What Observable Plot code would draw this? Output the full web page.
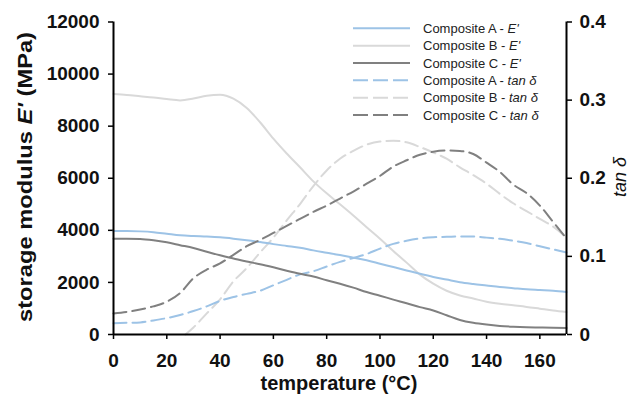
<!DOCTYPE html>
<html><head><meta charset="utf-8">
<script src="https://cdn.jsdelivr.net/npm/d3@7"></script>
<script src="https://cdn.jsdelivr.net/npm/@observablehq/plot@0.6"></script>
<style>
body{margin:0;background:#fff;}
#chart{width:632px;height:398px;}
</style></head><body><div id="chart"></div>
<script>
// ---- data ----
const temps = [0,5,10,15,20,25,30,35,40,45,50,55,60,65,70,75,80,85,90,95,100,105,110,115,120,125,130,135,140,145,150,155,160,165,170];
const eA = [3970,3970,3960,3930,3870,3810,3780,3760,3730,3680,3620,3550,3470,3400,3330,3230,3140,3050,2950,2850,2720,2590,2460,2330,2210,2110,2010,1940,1880,1820,1780,1740,1710,1680,1630];
const eB = [9240,9200,9150,9100,9040,8990,9060,9170,9210,9060,8700,8150,7520,6950,6420,5880,5420,5000,4570,4120,3680,3210,2760,2300,1950,1680,1500,1380,1260,1180,1120,1060,990,920,860];
const eC = [3680,3680,3670,3620,3540,3430,3320,3180,3040,2920,2800,2700,2580,2450,2330,2230,2080,1950,1800,1630,1490,1340,1200,1050,920,740,560,450,380,330,300,280,270,260,250];
const tanA = [0.0145,0.015,0.0155,0.018,0.021,0.025,0.030,0.036,0.043,0.048,0.052,0.056,0.063,0.070,0.077,0.081,0.087,0.093,0.098,0.103,0.110,0.116,0.120,0.123,0.1245,0.125,0.1255,0.1255,0.124,0.1225,0.120,0.117,0.113,0.109,0.105];
const tanBTemps = [27,30,35,40,45,50,55,60,65,70,75,80,85,90,95,100,105,110,115,120,125,130,135,140,145,150,155,160,165,170];
const tanB = [0,0.009,0.027,0.045,0.068,0.085,0.105,0.124,0.146,0.167,0.190,0.210,0.225,0.235,0.243,0.247,0.248,0.246,0.240,0.233,0.225,0.214,0.204,0.193,0.180,0.168,0.158,0.148,0.138,0.124];
const tanC = [0.027,0.029,0.032,0.036,0.042,0.053,0.072,0.083,0.091,0.102,0.113,0.121,0.130,0.139,0.148,0.157,0.165,0.174,0.183,0.193,0.203,0.215,0.223,0.230,0.234,0.2355,0.235,0.231,0.220,0.208,0.192,0.181,0.165,0.144,0.123];

const xTicks = [0,20,40,60,80,100,120,140,160];
const yTicks = [0,2000,4000,6000,8000,10000,12000];
const tanTicks = [0,0.1,0.2,0.3,0.4];
const tanTickLabels = ["0","0.1","0.2","0.3","0.4"];

const seriesNames = ["Composite A - E'","Composite B - E'","Composite C - E'","Composite A - tan δ","Composite B - tan δ","Composite C - tan δ"];
const colors = {A:"#9dc3e6", B:"#d9d9d9", C:"#808080"};
const DASH = "13,6";

// tan δ axis maps 0–0.4 onto 0–12000
const K = 12000 / 0.4;

const rows = (xs, ys) => xs.map((t,i) => ({t, v: ys[i]}));
const FONT = "'Liberation Sans', Arial, Helvetica, sans-serif";

const lineOpts = (stroke, dashed, tan) => ({
  x: "t", y: tan ? (d => d.v * K) : "v", stroke, strokeWidth: 2,
  strokeDasharray: dashed ? DASH : null, curve: "monotone-x"
});

const svg = Plot.plot({
  width: 632, height: 398,
  marginLeft: 113, marginRight: 66, marginTop: 21.5, marginBottom: 64,
  x: {domain: [0,170]},
  y: {domain: [0,12000]},
  style: {fontFamily: FONT, fontSize: "19px", fontWeight: "bold", color: "#111", background: "#fff"},
  marks: [
    Plot.axisY({anchor: "left", ticks: yTicks, tickSize: 5, tickPadding: 9, tickFormat: d => String(d), label: null, strokeWidth: 1.5, stroke: "#000"}),
    Plot.axisY({anchor: "right", ticks: tanTicks.map(v => v * K), tickSize: 5, tickPadding: 8,
      tickFormat: d => tanTickLabels[tanTicks.findIndex(v => Math.abs(v*K - d) < 1)], label: null, strokeWidth: 1.5, stroke: "#000"}),
    Plot.axisX({ticks: xTicks, tickSize: 5, tickPadding: 14, label: null, strokeWidth: 1.5, stroke: "#000"}),
    Plot.line(rows(tanBTemps, tanB), lineOpts(colors.B, true, true)),
    Plot.line(rows(temps, eB), lineOpts(colors.B, false, false)),
    Plot.line(rows(temps, tanA), lineOpts(colors.A, true, true)),
    Plot.line(rows(temps, eA), lineOpts(colors.A, false, false)),
    Plot.line(rows(temps, tanC), lineOpts(colors.C, true, true)),
    Plot.line(rows(temps, eC), lineOpts(colors.C, false, false)),
    Plot.ruleX([0], {stroke: "#000", strokeWidth: 2}),
    Plot.ruleX([170], {stroke: "#000", strokeWidth: 2}),
    Plot.ruleY([0], {stroke: "#000", strokeWidth: 2})
  ]
});

const s = d3.select(svg);
// left axis title
const yt = s.append("text")
  .attr("transform", "translate(25,177) rotate(-90)")
  .attr("text-anchor", "middle").attr("dy", "0.35em")
  .attr("textLength", 290).attr("lengthAdjust", "spacingAndGlyphs")
  .attr("font-family", FONT).attr("font-size", 20).attr("font-weight", "bold").attr("fill", "#111");
yt.append("tspan").text("storage modulus ");
yt.append("tspan").attr("font-style", "italic").text("E'");
yt.append("tspan").text(" (MPa)");
// right axis title
s.append("text")
  .attr("transform", "translate(620,177) rotate(-90)")
  .attr("text-anchor", "middle").attr("dy", "0.35em")
  .attr("font-family", FONT).attr("font-size", 18).attr("font-style", "italic").attr("font-weight", "normal").attr("fill", "#111")
  .text("tan δ");
// x axis title
s.append("text")
  .attr("x", 339).attr("y", 383).attr("dy", "0.35em")
  .attr("text-anchor", "middle")
  .attr("font-family", FONT).attr("font-size", 20).attr("font-weight", "bold").attr("fill", "#111")
  .text("temperature (°C)");

// legend
const legendItems = [
  {c: colors.A, dash: false}, {c: colors.B, dash: false}, {c: colors.C, dash: false},
  {c: colors.A, dash: true}, {c: colors.B, dash: true}, {c: colors.C, dash: true}
];
const lg = s.append("g").attr("font-family", FONT).attr("font-size", 13).attr("font-weight", "normal")
  .attr("fill", "#222").attr("text-anchor", "start");
legendItems.forEach((it, i) => {
  const y = 28.3 + i * 17.35;
  lg.append("line").attr("x1", 353).attr("x2", 410).attr("y1", y).attr("y2", y)
    .attr("stroke", it.c).attr("stroke-width", 2).attr("stroke-dasharray", it.dash ? "15,5" : null);
  const [pre, post] = seriesNames[i].split(" - ");
  const t = lg.append("text").attr("x", 423).attr("y", y).attr("dy", "0.35em").attr("text-anchor", "start");
  t.append("tspan").text(pre + " - ");
  t.append("tspan").attr("font-style", "italic").text(post);
});

document.getElementById("chart").appendChild(svg);
</script>
</body></html>
